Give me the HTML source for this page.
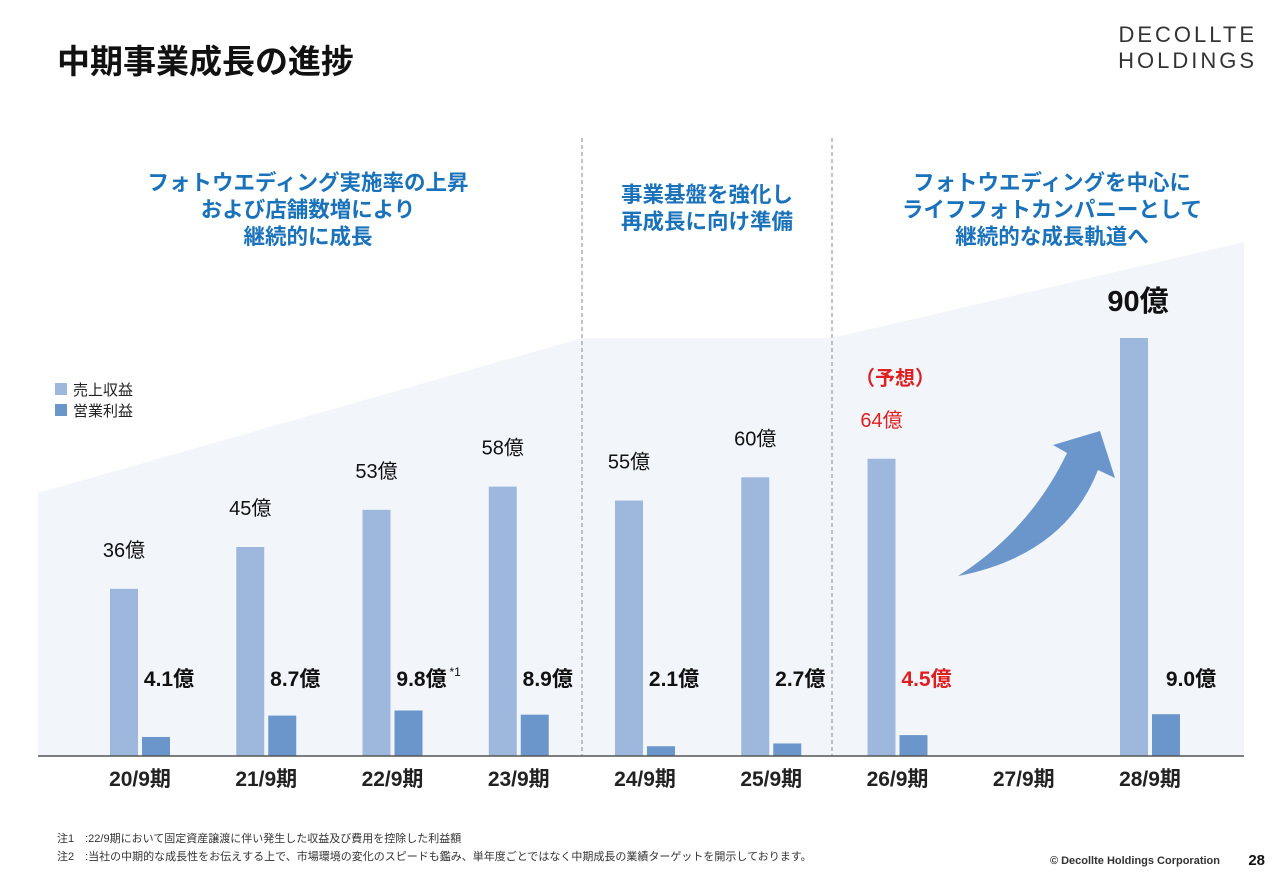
<!DOCTYPE html>
<html><head><meta charset="utf-8"><style>
body{margin:0;background:#fff;}
svg text{font-family:"Liberation Sans","Noto Sans CJK JP",sans-serif;}
</style></head><body>
<svg id="c" width="1280" height="886" viewBox="0 0 1280 886" xmlns="http://www.w3.org/2000/svg">
<polygon points="38,493 582,338 832,338 1244,242 1244,756 38,756" fill="#f2f6fb"/>
<text x="57" y="73" font-size="33" font-weight="bold" fill="#111">中期事業成長の進捗</text>
<text x="1257" y="42" font-size="22" fill="#333" text-anchor="end" letter-spacing="3">DECOLLTE</text>
<text x="1257" y="68" font-size="22" fill="#333" text-anchor="end" letter-spacing="3">HOLDINGS</text>
<g font-size="21.5" font-weight="bold" fill="#1a72bb" text-anchor="middle">
<text x="308" y="190">フォトウエディング実施率の上昇</text>
<text x="308" y="217">および店舗数増により</text>
<text x="308" y="244">継続的に成長</text>
<text x="707" y="202">事業基盤を強化し</text>
<text x="707" y="229">再成長に向け準備</text>
<text x="1052" y="190">フォトウエディングを中心に</text>
<text x="1052" y="217">ライフフォトカンパニーとして</text>
<text x="1052" y="244">継続的な成長軌道へ</text>
</g>
<line x1="582" y1="138" x2="582" y2="756" stroke="#888" stroke-dasharray="4,3"/>
<line x1="832" y1="138" x2="832" y2="756" stroke="#888" stroke-dasharray="4,3"/>
<rect x="55" y="383" width="12" height="12" fill="#9db8dc"/>
<text x="73" y="395" font-size="15" fill="#222">売上収益</text>
<rect x="55" y="404" width="12" height="12" fill="#6a96cb"/>
<text x="73" y="416" font-size="15" fill="#222">営業利益</text>
<text x="895" y="385" font-size="20" font-weight="bold" fill="#e02020" text-anchor="middle">（予想）</text>
<path d="M958,576 Q1030,530 1067,453 L1053,445 L1100,431 L1115,478 L1098,470 Q1065,555 958,576 Z" fill="#6a96cb"/>
<g id="bars"></g>
<line x1="38" y1="756" x2="1244" y2="756" stroke="#555" stroke-width="1.5"/>
<text x="57" y="842" font-size="11" fill="#333">注1　:22/9期において固定資産譲渡に伴い発生した収益及び費用を控除した利益額</text>
<text x="57" y="860" font-size="11" fill="#333">注2　:当社の中期的な成長性をお伝えする上で、市場環境の変化のスピードも鑑み、単年度ごとではなく中期成長の業績ターゲットを開示しております。</text>
<text x="1220" y="864" font-size="11" font-weight="bold" fill="#333" text-anchor="end">© Decollte Holdings Corporation</text>
<text x="1265" y="865" font-size="15" font-weight="bold" fill="#111" text-anchor="end">28</text>
</svg>
<script>
const categories=["20/9期","21/9期","22/9期","23/9期","24/9期","25/9期","26/9期","27/9期","28/9期"];
const revenue=[36,45,53,58,55,60,64,null,90];
const opIncome=[4.1,8.7,9.8,8.9,2.1,2.7,4.5,null,9.0];
const revLabels=["36億","45億","53億","58億","55億","60億","64億","","90億"];
const opLabels=["4.1億","8.7億","9.8億","8.9億","2.1億","2.7億","4.5億","","9.0億"];
const forecast=[false,false,false,false,false,false,true,false,false];
const base=756,scale=418/90;
const xc=i=>140+i*126.25;
const y=v=>base-v*scale;
const g=document.getElementById('bars');
const NS="http://www.w3.org/2000/svg";
function mk(t,a,txt){const e=document.createElementNS(NS,t);for(const k in a)e.setAttribute(k,a[k]);if(txt!==undefined)e.textContent=txt;g.appendChild(e);return e;}
categories.forEach((c,i)=>{
 const cx=xc(i);
 const lab=mk('text',{x:cx,y:786,'font-size':21,'font-weight':'bold',fill:'#222','text-anchor':'middle'},c);
 
 
 if(revenue[i]!=null){
  const r=mk('rect',{x:cx-30,y:y(revenue[i]),width:28,height:revenue[i]*scale,fill:'#9db8dc'});
  
  
  const big=i===8;
  const rl=mk('text',{x:cx-16+(big?4:0),y:y(revenue[i])-(big?27:32),'font-size':big?29:20,'font-weight':big?'bold':'normal',fill:forecast[i]?'#e02020':'#111','text-anchor':'middle'},revLabels[i]);
  
  
 }
 if(opIncome[i]!=null){
  const o=mk('rect',{x:cx+2,y:y(opIncome[i]),width:28,height:opIncome[i]*scale,fill:'#6a96cb'});
  
  
  const ol=mk('text',{x:cx+29+(i===8?12:0),y:686,'font-size':21,'font-weight':'bold','fill':forecast[i]?'#e02020':'#111','text-anchor':'middle'},opLabels[i]);
  
  
  if(i===2){const s=mk('text',{x:cx+57,y:676,'font-size':12,fill:'#111'},'*1');
   
   }
 }
});
</script>
</body></html>
